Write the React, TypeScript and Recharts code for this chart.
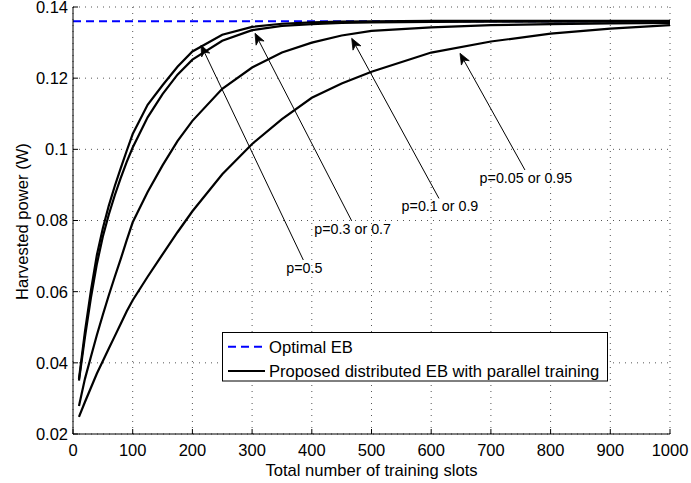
import React from 'react';
import { LineChart, Line, XAxis, YAxis, CartesianGrid, ReferenceLine, Legend } from 'recharts';

const FONT = '"Liberation Sans", Arial, Helvetica, sans-serif';

// Total number of training slots
const slots = [10, 20, 30, 40, 50, 60, 70, 80, 90, 100, 125, 150, 175, 200, 250, 300, 350, 400, 450, 500, 600, 700, 800, 900, 1000];
// Harvested power (W) for each p
const powerP05 = [0.0355, 0.0488, 0.0603, 0.0703, 0.0778, 0.0842, 0.0897, 0.0947, 0.0996, 0.1043, 0.1125, 0.118, 0.1232, 0.1275, 0.1322, 0.1344, 0.1353, 0.1357, 0.1359, 0.136, 0.1361, 0.1361, 0.1361, 0.1361, 0.1361];
const powerP03 = [0.035, 0.0472, 0.0583, 0.0678, 0.0755, 0.0817, 0.0871, 0.092, 0.0965, 0.1005, 0.109, 0.1155, 0.121, 0.1252, 0.1305, 0.1335, 0.1347, 0.1352, 0.1355, 0.1357, 0.1358, 0.1359, 0.1359, 0.1359, 0.1359];
const powerP01 = [0.0279, 0.0355, 0.0417, 0.0478, 0.0535, 0.059, 0.0642, 0.0692, 0.0745, 0.0795, 0.088, 0.0955, 0.1023, 0.108, 0.117, 0.123, 0.1272, 0.13, 0.132, 0.1333, 0.1343, 0.1349, 0.1352, 0.1354, 0.1355];
const powerP005 = [0.0248, 0.029, 0.033, 0.037, 0.0405, 0.044, 0.0475, 0.051, 0.0545, 0.0576, 0.0642, 0.0705, 0.0767, 0.0826, 0.093, 0.1015, 0.1085, 0.1145, 0.1185, 0.1218, 0.1272, 0.1303, 0.1325, 0.1339, 0.1349];

const optimalSlots = [0, 1000];
const optimalPower = [0.136, 0.136];

const xTicks = [0, 100, 200, 300, 400, 500, 600, 700, 800, 900, 1000];
const yTicks = [0.02, 0.04, 0.06, 0.08, 0.1, 0.12, 0.14];

const seriesNames = ['Optimal EB', 'Proposed distributed EB with parallel training'];

const annotationLabels = ['p=0.5', 'p=0.3 or 0.7', 'p=0.1 or 0.9', 'p=0.05 or 0.95'];
const annotationTailX = [385.8, 466.8, 613, 757];
const annotationTailY = [0.0689, 0.0799, 0.0862, 0.0942];
const annotationTipX = [214.4, 304.9, 466.8, 648.2];
const annotationTipY = [0.1293, 0.1326, 0.1312, 0.127];

const curveData = slots.map((x, i) => ({
  x,
  p05: powerP05[i],
  p03: powerP03[i],
  p01: powerP01[i],
  p005: powerP005[i],
}));
const optimalData = optimalSlots.map((x, i) => ({ x, opt: optimalPower[i] }));

const fmtY = (v: number) => String(Number(v.toFixed(2)));

const tickStyle = { fontSize: 16.5, fontFamily: FONT, fill: '#000' };

const makeArrow = (label: string) => (props: any) => {
  const { x1, y1, x2, y2 } = props;
  const dx = x2 - x1;
  const dy = y2 - y1;
  const len = Math.sqrt(dx * dx + dy * dy) || 1;
  const ux = dx / len;
  const uy = dy / len;
  const nx = -uy;
  const ny = ux;
  const L = 11;
  const W = 4.5;
  const bx = x2 - ux * L;
  const by = y2 - uy * L;
  const notchX = x2 - ux * L * 0.72;
  const notchY = y2 - uy * L * 0.72;
  const pts = `${x2},${y2} ${bx + nx * W},${by + ny * W} ${notchX},${notchY} ${bx - nx * W},${by - ny * W}`;
  return (
    <g>
      <line x1={x1} y1={y1} x2={notchX} y2={notchY} stroke="#000" strokeWidth={1} />
      <polygon points={pts} fill="#000" stroke="#000" strokeWidth={0.8} />
      <text x={x1 + 1} y={y1 + 13} textAnchor="middle" fontSize={14.3} fontFamily={FONT} fill="#000">
        {label}
      </text>
    </g>
  );
};

const renderLegend = () => (
  <svg width={386} height={50} style={{ display: 'block' }}>
    <rect x={0.5} y={0.5} width={385} height={48.5} fill="#fff" stroke="#000" strokeWidth={1} />
    <line x1={6} x2={43} y1={14.7} y2={14.7} stroke="#0000ff" strokeWidth={2} strokeDasharray="8 5" />
    <text x={47} y={20.5} fontSize={16.6} fontFamily={FONT} fill="#000">{seriesNames[0]}</text>
    <line x1={6} x2={43} y1={39} y2={39} stroke="#000" strokeWidth={2} />
    <text x={47} y={44.8} fontSize={16.6} fontFamily={FONT} fill="#000">{seriesNames[1]}</text>
  </svg>
);

const XLabel = (props: any) => {
  const vb = props.viewBox || { x: 73, y: 434, width: 597, height: 49 };
  return (
    <text x={vb.x + vb.width / 2} y={vb.y + 42} textAnchor="middle" fontSize={16.6} fontFamily={FONT} fill="#000">
      Total number of training slots
    </text>
  );
};

const YLabel = (props: any) => {
  const vb = props.viewBox || { x: 0, y: 7, width: 73, height: 427 };
  const cx = vb.x + 28;
  const cy = vb.y + vb.height / 2 + 1;
  return (
    <text x={cx} y={cy} transform={`rotate(-90 ${cx} ${cy})`} textAnchor="middle" fontSize={16.6} fontFamily={FONT} fill="#000">
      Harvested power (W)
    </text>
  );
};

export default function App() {
  return (
    <div style={{ position: 'absolute', left: 0, top: 0, background: '#fff' }}>
      <LineChart width={691} height={483} margin={{ top: 7, right: 21, bottom: 0, left: 0 }} data={curveData}>
        <CartesianGrid xAxisId="b" yAxisId="l" stroke="#555" strokeDasharray="1 5" vertical horizontal />
        <XAxis
          xAxisId="b"
          dataKey="x"
          type="number"
          domain={[0, 1000]}
          ticks={xTicks}
          allowDataOverflow
          height={49}
          tickSize={-5}
          tickMargin={15}
          tick={tickStyle}
          stroke="#000"
          axisLine={{ stroke: '#000' }}
          tickLine={{ stroke: '#000' }}
          interval={0}
          label={<XLabel />}
        />
        <XAxis
          xAxisId="t"
          orientation="top"
          dataKey="x"
          type="number"
          domain={[0, 1000]}
          ticks={xTicks}
          allowDataOverflow
          height={0}
          tickSize={-5}
          tick={false}
          axisLine={{ stroke: '#000' }}
          tickLine={{ stroke: '#000' }}
          interval={0}
        />
        <YAxis
          yAxisId="l"
          type="number"
          domain={[0.02, 0.14]}
          ticks={yTicks}
          allowDataOverflow
          width={73}
          tickSize={-5}
          tickMargin={10}
          tick={tickStyle}
          tickFormatter={fmtY}
          axisLine={{ stroke: '#000' }}
          tickLine={{ stroke: '#000' }}
          interval={0}
          label={<YLabel />}
        />
        <YAxis
          yAxisId="r"
          orientation="right"
          type="number"
          domain={[0.02, 0.14]}
          ticks={yTicks}
          allowDataOverflow
          width={0}
          tickSize={-5}
          tick={false}
          axisLine={{ stroke: '#000' }}
          tickLine={{ stroke: '#000' }}
          interval={0}
        />
        <Line
          xAxisId="b"
          yAxisId="l"
          data={optimalData}
          dataKey="opt"
          stroke="#0000ff"
          strokeWidth={2}
          strokeDasharray="8 5"
          dot={false}
          isAnimationActive={false}
          type="linear"
        />
        <Line xAxisId="b" yAxisId="l" dataKey="p005" stroke="#000" strokeWidth={2.2} dot={false} isAnimationActive={false} type="linear" />
        <Line xAxisId="b" yAxisId="l" dataKey="p01" stroke="#000" strokeWidth={2.2} dot={false} isAnimationActive={false} type="linear" />
        <Line xAxisId="b" yAxisId="l" dataKey="p03" stroke="#000" strokeWidth={2.2} dot={false} isAnimationActive={false} type="linear" />
        <Line xAxisId="b" yAxisId="l" dataKey="p05" stroke="#000" strokeWidth={2.2} dot={false} isAnimationActive={false} type="linear" />
        {annotationLabels.map((lab, i) => (
          <ReferenceLine
            key={lab}
            xAxisId="b"
            yAxisId="l"
            segment={[
              { x: annotationTailX[i], y: annotationTailY[i] },
              { x: annotationTipX[i], y: annotationTipY[i] },
            ]}
            ifOverflow="visible"
            shape={makeArrow(lab)}
          />
        ))}
        <Legend
          layout="vertical"
          verticalAlign="middle"
          align="center"
          wrapperStyle={{ left: 222, top: 332, width: 386, height: 50 }}
          content={renderLegend}
        />
      </LineChart>
    </div>
  );
}
